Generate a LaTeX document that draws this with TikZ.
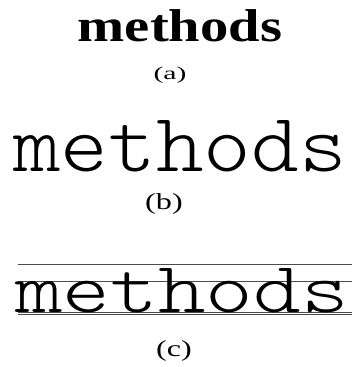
\documentclass[tikz,border=0pt]{standalone}
\usepackage{fontspec}
\setmainfont{Liberation Serif}
\begin{document}
\begin{tikzpicture}[x=1pt,y=-1pt,
  word/.style={anchor=base, inner sep=0pt, outer sep=0pt},
  lbl/.style={anchor=base, inner sep=0pt, outer sep=0pt},
  guide/.style={draw=black!70, line width=0.8pt}]
\useasboundingbox[fill=white] (0,0) rectangle (352,367);
% (a)
\node[word] (ta) at (180,41) {\scalebox{1.23}[1]{\fontsize{46}{46}\selectfont\bfseries methods}};
\node[lbl] (la) at (170,79) {\scalebox{1.65}[1]{\fontsize{18}{18}\selectfont (a)}};
% (b)
\node[word] (tb) at (180,171) {\scalebox{1.12}[1.03]{\fontsize{81}{81}\ttfamily\fontseries{l}\selectfont methods}};
\node[lbl] (lb) at (164,209) {\scalebox{1.4}[1]{\fontsize{23}{23}\selectfont (b)}};
% (c)
\coordinate (g1a) at (18,264); \coordinate (g1b) at (352,264);
\coordinate (g2a) at (18,281); \coordinate (g2b) at (352,281);
\coordinate (g3a) at (18,312); \coordinate (g3b) at (352,312);
\coordinate (g4a) at (18,314.5); \coordinate (g4b) at (352,314.5);
\draw[guide] (g1a) -- (g1b);
\draw[guide] (g2a) -- (g2b);
\draw[guide] (g3a) -- (g3b);
\draw[guide] (g4a) -- (g4b);
\node[word] (tc) at (182,312) {\scalebox{1.12}[0.89]{\fontsize{81}{81}\ttfamily\fontseries{l}\selectfont methods}};
\node[lbl] (lc) at (174,356) {\scalebox{1.4}[1]{\fontsize{23}{23}\selectfont (c)}};
\end{tikzpicture}
\end{document}
